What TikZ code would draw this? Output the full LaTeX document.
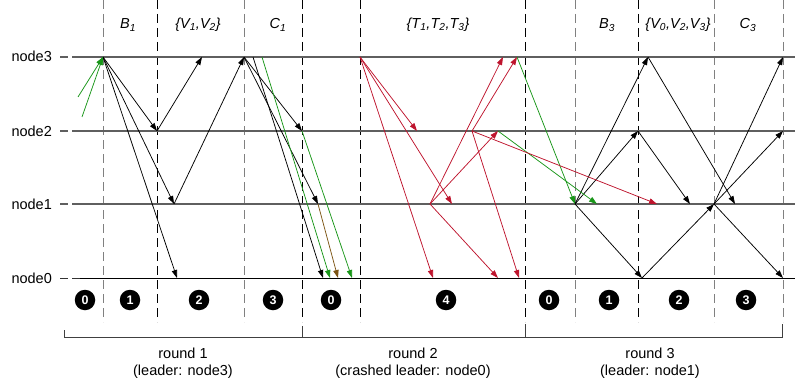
\documentclass[tikz,border=0pt]{standalone}
\usepackage{fontspec}
\setmainfont{Liberation Sans}
\usetikzlibrary{arrows.meta}
\definecolor{msgGreen}{RGB}{25,150,25}
\definecolor{msgRed}{RGB}{190,20,45}
\definecolor{msgBrown}{RGB}{125,85,20}
\definecolor{rowGray}{RGB}{95,95,95}

\tikzset{
  msg/.style={-{Triangle[length=8pt,width=5.4pt]}, line width=0.75pt},
  phase/.style={dash pattern=on 9pt off 5pt, line width=0.9pt},
  step num/.style={circle, fill=black, text=white, inner sep=0pt, minimum size=20.5pt,
    font=\bfseries\fontsize{12.5}{12.5}\selectfont},
}

\begin{document}
\begin{tikzpicture}[x=1pt, y=-1pt, font=\fontsize{14.5}{17}\selectfont]
    \useasboundingbox (0,0) rectangle (799,385);
    % phase borders
    \foreach \x/\c in {103/gray, 157/black, 244/gray, 302/black, 360/black,
        525/black, 575/gray, 638/black, 714/gray, 783/gray}
        \draw[phase, \c] (\x,0) -- (\x,322);
    % the four nodes
    \foreach \i/\y in {3/57, 2/131, 1/204} {
        \node[anchor=base west] (lab\i) at (8,\y+5) {node\i};
        \draw[rowGray, line width=1.3pt, dash pattern=on 8pt off 4pt] (60,\y) -- (80,\y);
        \draw[rowGray, line width=1.3pt] (80,\y) -- (795,\y);
    }
    \node[anchor=base west] (lab0) at (8,283) {node0};
    \draw[black!80, line width=1pt, dash pattern=on 8pt off 4pt] (60,278) -- (80,278);
    \draw[black, line width=1pt] (80,278) -- (795,278);
    % phase names
    \foreach \n/\x/\t in {
        b1/128/{B\textsubscript{1}}, v1/198/{\{V\textsubscript{1},V\textsubscript{2}\}},
        c1/278/{C\textsubscript{1}}, t2/438/{\{T\textsubscript{1},T\textsubscript{2},T\textsubscript{3}\}},
        b3/607/{B\textsubscript{3}}, v3/678/{\{V\textsubscript{0},V\textsubscript{2},V\textsubscript{3}\}},
        c3/748/{C\textsubscript{3}}}
        \node[font=\itshape\fontsize{14.5}{17}\selectfont] (ph\n) at (\x,25) {\t};
    % step numbers
    \foreach \n/\x/\s in {a/85/0, b/130/1, c/199/2, d/273/3, e/331/0,
        f/446/4, g/549/0, h/609/1, i/679/2, j/746/3}
        \node[step num] (st\n) at (\x,300) {\s};
    % rounds
    \draw[black!75, line width=0.9pt] (64,330) -- (64,337) -- (782,337) -- (782,324);
    \draw[black!75, line width=0.9pt] (302,326) -- (302,337);
    \draw[black!75, line width=0.9pt] (525,324) -- (525,337);
    \node[align=center] (rd1) at (183,363) {round 1\\(leader: node3)};
    \node[align=center] (rd2) at (413,363) {round 2\\(crashed leader: node0)};
    \node[align=center] (rd3) at (650,363) {round 3\\(leader: node1)};

    % events on each node
    \foreach \k/\x in {a/103, b/202, c/244, d/253, e/262, f/360, g/503, h/517, i/648, j/783}
        \coordinate (n3\k) at (\x,57);
    \foreach \k/\x in {a/157, b/302, c/417, d/472, e/498, f/638, g/783}
        \coordinate (n2\k) at (\x,131);
    \foreach \k/\x in {a/174, b/318, c/430, d/452, e/575, f/597, g/657, h/690, i/714, j/735, k/783}
        \coordinate (n1\k) at (\x,204);
    \foreach \k/\x in {a/177, b/323, c/330, d/338, e/352, f/433, g/498, h/519, i/642, j/783}
        \coordinate (n0\k) at (\x,278);
    \coordinate (g1) at (78,97);
    \coordinate (g2) at (82,117);

    % messages
    \foreach \a/\b in {n3a/n2a, n3a/n1a, n3a/n0a, n2a/n3b, n1a/n3c, n3c/n2b, n3c/n1b,
        n3d/n0b, n1e/n3i, n1e/n2f, n1e/n0i, n3i/n1j, n2f/n1h, n0i/n1i,
        n1i/n3j, n1i/n2g, n1i/n0j}
        \draw[msg, black] (\a) -- (\b);
    \foreach \a/\b in {g1/n3a, g2/n3a, n3e/n0c, n2b/n0e, n2e/n1f, n3h/n1e}
        \draw[msg, msgGreen] (\a) -- (\b);
    \draw[msg, msgBrown] (n1b) -- (n0d);
    \foreach \a/\b in {n3f/n2c, n3f/n1d, n3f/n0f, n1c/n3g, n1c/n2e, n1c/n0g,
        n2d/n3h, n2d/n0h, n2d/n1g}
        \draw[msg, msgRed] (\a) -- (\b);
\end{tikzpicture}
\end{document}
